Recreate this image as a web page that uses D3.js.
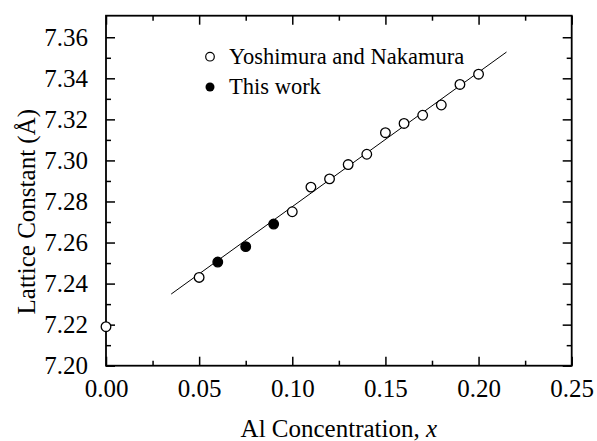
<!DOCTYPE html>
<html>
<head>
<meta charset="UTF-8">
<script src="https://d3js.org/d3.v7.min.js"></script>
<style>
  body { margin: 0; background: #fff; }
  svg text { font-family: "Liberation Serif", "Times New Roman", Times, serif !important; fill: #000; }
</style>
</head>
<body>
<div id="chart"></div>
<script>
// Yoshimura and Nakamura (open circles)
const yoshiX = [0.00, 0.05, 0.10, 0.11, 0.12, 0.13, 0.14, 0.15, 0.16, 0.17, 0.18, 0.19, 0.20];
const yoshiY = [7.219, 7.243, 7.275, 7.287, 7.291, 7.298, 7.303, 7.3135, 7.318, 7.322, 7.327, 7.337, 7.342];
// This work (filled circles)
const workX = [0.06, 0.075, 0.09];
const workY = [7.2505, 7.258, 7.269];
// fitted line endpoints
const fitX = [0.035, 0.215];
const fitY = [7.2349, 7.3528];

const xTicks = [0.00, 0.05, 0.10, 0.15, 0.20, 0.25];
const yTicks = [7.20, 7.22, 7.24, 7.26, 7.28, 7.30, 7.32, 7.34, 7.36];
const xMinor = [0.025, 0.075, 0.125, 0.175, 0.225];
const yMinor = [7.21, 7.23, 7.25, 7.27, 7.29, 7.31, 7.33, 7.35];

const FONT = '"Liberation Serif", "Times New Roman", Times, serif';
const W = 597, H = 441;
const margin = {top: 15.7, right: 25.3, bottom: 75.3, left: 106};
const width = W - margin.left - margin.right,
      height = H - margin.top - margin.bottom;

const svg = d3.select("#chart").append("svg")
  .attr("width", W).attr("height", H)
  .attr("font-family", FONT);
const g = svg.append("g").attr("transform", `translate(${margin.left},${margin.top})`);

const x = d3.scaleLinear().domain([0, 0.25]).range([0, width]);
const y = d3.scaleLinear().domain([7.20, 7.3705]).range([height, 0]);

function styleAxis(sel) {
  sel.attr("font-family", FONT);
  sel.select(".domain").remove();
  sel.selectAll("line").attr("stroke", "#000").attr("stroke-width", 1.5);
  sel.selectAll("text").style("font-size", "25px").style("font-family", FONT);
}

// major ticks (inward)
g.append("g").attr("transform", `translate(0,${height})`)
  .call(d3.axisBottom(x).tickValues(xTicks).tickSize(-9).tickPadding(14).tickFormat(d3.format(".2f")))
  .call(styleAxis);
g.append("g")
  .call(d3.axisTop(x).tickValues(xTicks).tickSize(-9).tickFormat(""))
  .call(styleAxis);
g.append("g")
  .call(d3.axisLeft(y).tickValues(yTicks).tickSize(-9).tickPadding(18).tickFormat(d3.format(".2f")))
  .call(styleAxis);
g.append("g").attr("transform", `translate(${width},0)`)
  .call(d3.axisRight(y).tickValues(yTicks).tickSize(-9).tickFormat(""))
  .call(styleAxis);

// minor ticks
g.append("g").attr("transform", `translate(0,${height})`)
  .call(d3.axisBottom(x).tickValues(xMinor).tickSize(-5).tickFormat("")).call(styleAxis);
g.append("g")
  .call(d3.axisTop(x).tickValues(xMinor).tickSize(-5).tickFormat("")).call(styleAxis);
g.append("g")
  .call(d3.axisLeft(y).tickValues(yMinor).tickSize(-5).tickFormat("")).call(styleAxis);
g.append("g").attr("transform", `translate(${width},0)`)
  .call(d3.axisRight(y).tickValues(yMinor).tickSize(-5).tickFormat("")).call(styleAxis);

// frame
g.append("rect").attr("x", 0).attr("y", 0).attr("width", width).attr("height", height)
  .attr("fill", "none").attr("stroke", "#000").attr("stroke-width", 1.8);

// fit line
g.append("line")
  .attr("x1", x(fitX[0])).attr("y1", y(fitY[0]))
  .attr("x2", x(fitX[1])).attr("y2", y(fitY[1]))
  .attr("stroke", "#000").attr("stroke-width", 1);

// points
g.selectAll(".open").data(yoshiX.map((v, i) => [v, yoshiY[i]])).enter()
  .append("circle").attr("class", "open")
  .attr("cx", d => x(d[0])).attr("cy", d => y(d[1])).attr("r", 4.8)
  .attr("fill", "#fff").attr("stroke", "#000").attr("stroke-width", 1.3);
g.selectAll(".filled").data(workX.map((v, i) => [v, workY[i]])).enter()
  .append("circle").attr("class", "filled")
  .attr("cx", d => x(d[0])).attr("cy", d => y(d[1])).attr("r", 4.8)
  .attr("fill", "#000").attr("stroke", "#000").attr("stroke-width", 1.3);

// legend
const legend = svg.append("g");
legend.append("circle").attr("cx", 210).attr("cy", 56.7).attr("r", 4.3)
  .attr("fill", "#fff").attr("stroke", "#000").attr("stroke-width", 1.2);
legend.append("text").attr("x", 229).attr("y", 64).style("font-size", "22.5px")
  .style("font-family", FONT).text("Yoshimura and Nakamura");
legend.append("circle").attr("cx", 210).attr("cy", 87).attr("r", 4.5)
  .attr("fill", "#000");
legend.append("text").attr("x", 229).attr("y", 94).style("font-size", "22.5px")
  .style("font-family", FONT).text("This work");

// axis titles
const xt = svg.append("text").attr("x", margin.left + width / 2).attr("y", 437)
  .attr("text-anchor", "middle").style("font-size", "25px").style("font-family", FONT);
xt.append("tspan").text("Al Concentration, ");
xt.append("tspan").style("font-style", "italic").text("x");

svg.append("text")
  .attr("transform", `translate(35,${margin.top + height / 2 + 21}) rotate(-90)`)
  .attr("text-anchor", "middle").style("font-size", "25px").style("font-family", FONT)
  .text("Lattice Constant (Å)");
</script>
</body>
</html>
